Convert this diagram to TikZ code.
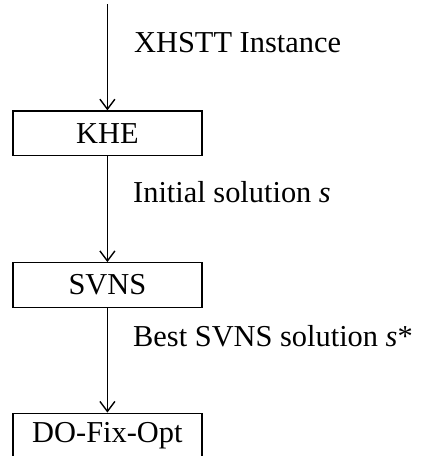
\documentclass[tikz,border=0pt]{standalone}
\usepackage{fontspec}
\setmainfont{Liberation Serif}
\usetikzlibrary{arrows.meta}
\begin{document}
\begin{tikzpicture}[x=1pt,y=1pt,
  every node/.style={font=\fontsize{30.4}{34}\selectfont},
  procbox/.style={draw, line width=1.4pt, minimum width=189pt, minimum height=44.5pt, inner sep=0pt},
  flow/.style={line width=1.4pt, -{Straight Barb[length=10pt,width=15pt,line width=1.4pt]}},
  lbl/.style={anchor=base west, inner sep=0pt}]
\useasboundingbox (0,0) rectangle (427,-456);
\coordinate (top) at (107.4,-4);
\node[procbox] (khe) at (107.4,-133.3) {KHE};
\node[procbox] (svns) at (107.4,-285) {SVNS};
\node[procbox] (dfo) at (107.4,-435.5) {DO-Fix-Opt};
\draw[flow] (top) -- (khe.north);
\draw[flow] (khe.south) -- (svns.north);
\draw[flow] (svns.south) -- (dfo.north);
\node[lbl] (l1) at (134,-52) {XHSTT Instance};
\node[lbl] (l2) at (133,-202.3) {Initial solution \textit{s}};
\node[lbl] (l3) at (133,-346) {Best SVNS solution \textit{s}*};
\end{tikzpicture}
\end{document}
